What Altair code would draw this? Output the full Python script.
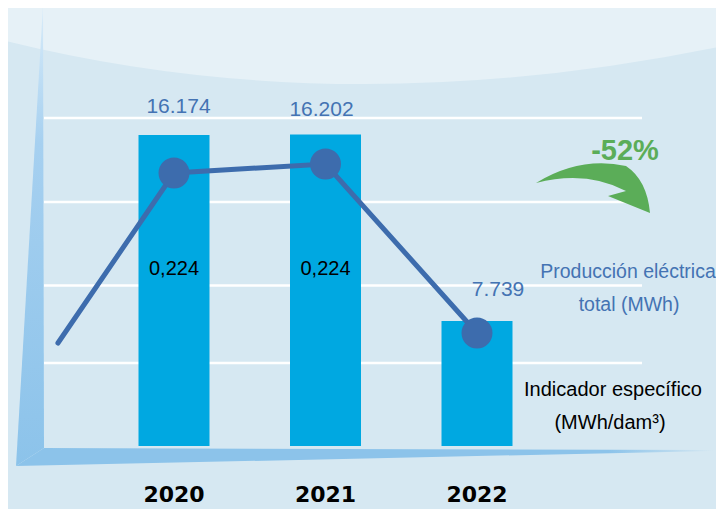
import altair as alt
import pandas as pd

# ---------------- data ----------------
years = [2020, 2021, 2022]
year_labels = ["2020", "2021", "2022"]
production_mwh = [16174, 16202, 7739]
indicator_years = [2020, 2021]
indicator_values = [0.224, 0.224]
trend_x = [2019.234, 2020, 2021, 2022]          # indicator line points
trend_y = [0.0845, 0.224, 0.2314, 0.0927]
change_label = "-52%"
series_label = ["Producción eléctrica", "total (MWh)"]
indicator_title = ["Indicador específico", "(MWh/dam³)"]

# ---------------- tables ----------------
bars = pd.DataFrame({
    "year": years,
    "production": production_mwh,
    "label": [f"{v:,}".replace(",", ".") for v in production_mwh],
    "year_label": year_labels,
})
ind = pd.DataFrame({
    "year": indicator_years,
    "value": indicator_values,
    "label": [f"{v:.3f}".replace(".", ",") for v in indicator_values],
})
trend = pd.DataFrame({"x": trend_x, "indicator": trend_y})
trend["is_year"] = trend["x"].isin(years)

one = alt.InlineData(values=[{"k": 1}])

# ---------------- styles ----------------
FONT = "Liberation Sans"
BG = "#d6e8f2"
BAND = "#e6f1f7"
BAR = "#00a8e1"
LINE = "#3d6cad"
BLUE_TXT = "#4473b3"
GREEN = "#5bad58"
AXIS = "#8cc3ea"
BAR_BASE = 2070

X = alt.Scale(domain=[2020, 2022], range=[166, 469], nice=False, zero=False, padding=0)
YB = alt.Scale(domain=[BAR_BASE, 16174], range=[438, 127], nice=False, zero=False, padding=0)
YI = alt.Scale(domain=[0, 0.224], range=[438, 165], nice=False, zero=False, padding=0)


def shape(path, fill):
    return alt.Chart(one).mark_point(
        shape=path, size=4, filled=True, fill=fill, strokeOpacity=0, opacity=1
    ).encode(x=alt.value(0), y=alt.value(0))


def text(t, x, y, size, color, weight="normal", font=FONT):
    return alt.Chart(one).mark_text(
        text=t, font=font, fontSize=size, fontWeight=weight, color=color,
        align="center", baseline="middle"
    ).encode(x=alt.value(x), y=alt.value(y))


def grid(y):
    return alt.Chart(one).mark_rule(color="white", strokeWidth=2.5).encode(
        x=alt.value(36), x2=alt.value(634), y=alt.value(y)
    )


band = shape("M-10,-10 L720,-10 L720,37 Q332,118 -10,31 Z", BAND)

vert_axis = shape(
    "M35,-3 L36,440 L8,458 Z",
    alt.Gradient(gradient="linear", x1=0, x2=0, y1=0, y2=1, stops=[
        alt.GradientStop(offset=0, color="#d9ecf9"),
        alt.GradientStop(offset=0.3, color="#a6d0f0"),
        alt.GradientStop(offset=1, color=AXIS),
    ]),
)
horiz_axis = shape(
    "M36,440 L705,442 L705,443 L8,458 Z",
    alt.Gradient(gradient="linear", x1=0, x2=1, y1=0, y2=0, stops=[
        alt.GradientStop(offset=0, color=AXIS),
        alt.GradientStop(offset=0.85, color=AXIS),
        alt.GradientStop(offset=1, color=BG),
    ]),
)

grids = [grid(y) for y in (110, 194, 277.5, 355)]

base_bars = alt.Chart(bars)
bar_layer = base_bars.mark_bar(size=71, color=BAR).encode(
    x=alt.X("year:Q", scale=X, axis=None),
    y=alt.Y("production:Q", scale=YB, axis=None),
    y2=alt.datum(BAR_BASE),
)

offsets = {2020: (4.5, -28), 2021: (-4, -24.5), 2022: (21, -30.5)}
value_labels = [
    base_bars.transform_filter(alt.datum.year == yr).mark_text(
        font=FONT, fontSize=21, color=BLUE_TXT, dx=dx, dy=dy, baseline="middle"
    ).encode(
        x=alt.X("year:Q", scale=X, axis=None),
        y=alt.Y("production:Q", scale=YB, axis=None),
        text="label:N",
    )
    for yr, (dx, dy) in offsets.items()
]

year_text = base_bars.mark_text(
    font="DejaVu Sans", fontWeight="bold", fontSize=22, color="black", baseline="middle"
).encode(
    x=alt.X("year:Q", scale=X, axis=None),
    y=alt.value(487),
    text="year_label:N",
)

line_layer = alt.Chart(trend).mark_line(color=LINE, strokeWidth=5, strokeCap="round").encode(
    x=alt.X("x:Q", scale=X, axis=None),
    y=alt.Y("indicator:Q", scale=YI, axis=None),
)
dots = alt.Chart(trend).transform_filter(alt.datum.is_year).mark_circle(
    size=960, color=LINE, opacity=1
).encode(
    x=alt.X("x:Q", scale=X, axis=None),
    y=alt.Y("indicator:Q", scale=YI, axis=None),
)

ind_labels = alt.Chart(ind).mark_text(font=FONT, fontSize=20, color="black", baseline="middle").encode(
    x=alt.X("year:Q", scale=X, axis=None),
    y=alt.value(261),
    text="label:N",
)

arrow = shape(
    "M528,175 Q572,148 618,158 Q639,172 642,205 L600,188 L618,183 Q578,162 528,175 Z",
    GREEN,
)

texts = [
    text(change_label, 617, 143, 29, GREEN, weight="bold"),
    text(series_label[0], 620, 264, 19.5, BLUE_TXT),
    text(series_label[1], 621, 297, 19.5, BLUE_TXT),
    text(indicator_title[0], 605, 382, 20, "black"),
    text(indicator_title[1], 602, 415, 20, "black"),
]

chart = alt.layer(
    band, *grids, vert_axis, horiz_axis, bar_layer, *value_labels,
    line_layer, dots, ind_labels, year_text, arrow, *texts
).resolve_scale(y="independent").properties(
    width=708, height=501, autosize="none", padding=0
).configure(background=BG).configure_view(stroke=None)

chart.save("out.html", embed_options={"renderer": "svg", "actions": False})
